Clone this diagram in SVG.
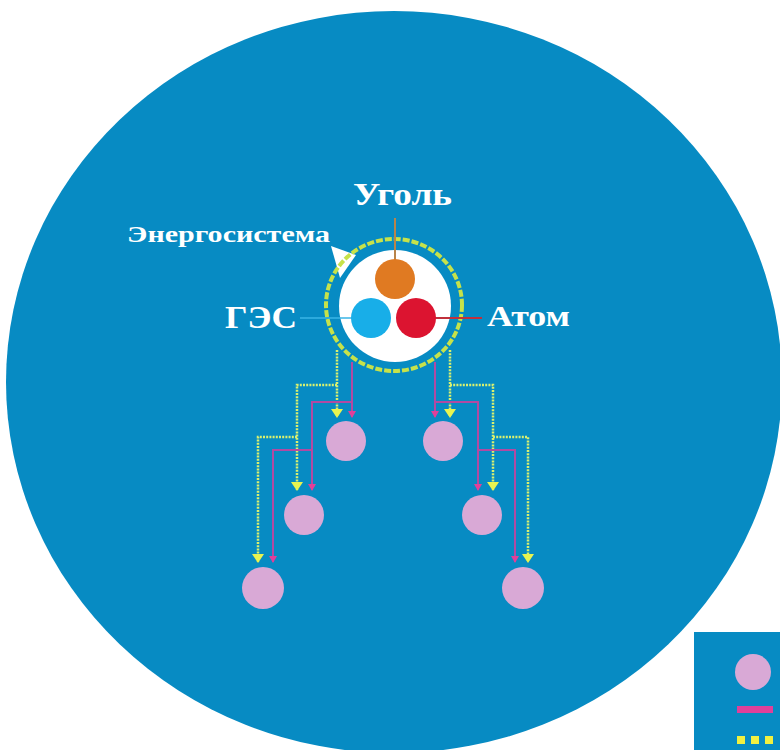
<svg xmlns="http://www.w3.org/2000/svg" width="780" height="750" viewBox="0 0 780 750">
<style>
.lbl{font-family:"Liberation Serif","DejaVu Serif",serif;font-weight:bold;fill:#ffffff}
.ylw{fill:none;stroke:#d8f070;stroke-width:2.5;stroke-dasharray:2 1.2}
.mag{fill:none;stroke:#b24aa2;stroke-width:2}
.cons{fill:#d9a9d6}
</style>
<defs>
<marker id="ma" markerUnits="userSpaceOnUse" markerWidth="8" markerHeight="8" refX="4" refY="7" orient="0" viewBox="0 0 8 8">
<path d="M0,1 H8 L4,8 Z" fill="#e0409a"/>
</marker>
<marker id="ya2" markerUnits="userSpaceOnUse" markerWidth="12" markerHeight="10" refX="6" refY="9" orient="0" viewBox="0 0 12 10">
<path d="M0,1 H12 L6,10 Z" fill="#e8f450"/>
</marker>
</defs>
<rect width="780" height="750" fill="#ffffff"/>
<ellipse id="field" cx="394" cy="382" rx="388" ry="371" fill="#078bc3"/>

<g id="connectors">
<path class="ylw" d="M337,350 V417" marker-end="url(#ya2)"/>
<path class="ylw" d="M337,385 H297 V490" marker-end="url(#ya2)"/>
<path class="ylw" d="M297,437 H258 V562" marker-end="url(#ya2)"/>
<path class="ylw" d="M450,350 V417" marker-end="url(#ya2)"/>
<path class="ylw" d="M450,385 H493 V490" marker-end="url(#ya2)"/>
<path class="ylw" d="M493,437 H528 V562" marker-end="url(#ya2)"/>
<path class="mag" d="M352,362 V417" marker-end="url(#ma)"/>
<path class="mag" d="M352,402 H312 V490" marker-end="url(#ma)"/>
<path class="mag" d="M312,450 H273 V562" marker-end="url(#ma)"/>
<path class="mag" d="M435,362 V417" marker-end="url(#ma)"/>
<path class="mag" d="M435,402 H478 V490" marker-end="url(#ma)"/>
<path class="mag" d="M478,450 H515 V562" marker-end="url(#ma)"/>
</g>

<g id="energosistema">
<path d="M331,246 L356,255 L340,278 Z" fill="#ffffff"/>
<circle cx="395" cy="306" r="56" fill="#ffffff"/>
<ellipse cx="394" cy="305" rx="68" ry="66" fill="none" stroke="#c6e24a" stroke-width="4" stroke-dasharray="7 2"/>
<text class="lbl" x="127" y="242" font-size="24" textLength="203" lengthAdjust="spacingAndGlyphs">Энергосистема</text>
</g>

<g id="coal">
<line x1="395" y1="218" x2="395" y2="260" stroke="#b8844a" stroke-width="2"/>
<circle cx="395" cy="279" r="20" fill="#e07a22"/>
<text class="lbl" x="353" y="205" font-size="31" textLength="99" lengthAdjust="spacingAndGlyphs">Уголь</text>
</g>

<g id="hydro">
<line x1="300" y1="318" x2="352" y2="318" stroke="#3ab4e6" stroke-width="1.5"/>
<circle cx="371" cy="318" r="20" fill="#18aee8"/>
<text class="lbl" x="225" y="328" font-size="31" textLength="72" lengthAdjust="spacingAndGlyphs">ГЭС</text>
</g>

<g id="atom">
<line x1="433" y1="318" x2="482" y2="318" stroke="#c0303c" stroke-width="2"/>
<circle cx="416" cy="318" r="20" fill="#dc1430"/>
<text class="lbl" x="487" y="326" font-size="30" textLength="83" lengthAdjust="spacingAndGlyphs">Атом</text>
</g>

<g id="consumer-l1"><circle class="cons" cx="346" cy="441" r="20"/></g>
<g id="consumer-l2"><circle class="cons" cx="304" cy="515" r="20"/></g>
<g id="consumer-l3"><circle class="cons" cx="263" cy="588" r="21"/></g>
<g id="consumer-r1"><circle class="cons" cx="443" cy="441" r="20"/></g>
<g id="consumer-r2"><circle class="cons" cx="482" cy="515" r="20"/></g>
<g id="consumer-r3"><circle class="cons" cx="523" cy="588" r="21"/></g>

<g id="legend">
<rect x="694" y="632" width="86" height="118" fill="#078bc3"/>
<circle class="cons" cx="753" cy="672" r="18"/>
<rect x="737" y="706" width="36" height="7" fill="#e0409a"/>
<rect x="737" y="736" width="8" height="8" fill="#f0f040"/>
<rect x="751" y="736" width="8" height="8" fill="#f0f040"/>
<rect x="765" y="736" width="8" height="8" fill="#f0f040"/>
</g>
</svg>
